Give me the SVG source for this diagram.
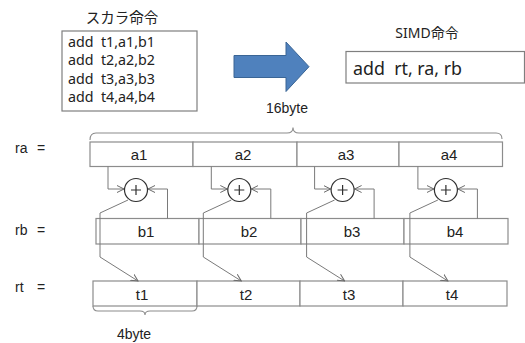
<svg xmlns="http://www.w3.org/2000/svg" width="525" height="343" viewBox="0 0 525 343">
<defs>
<marker id="ah" viewBox="0 0 8 8" refX="7" refY="4" markerWidth="8" markerHeight="8" markerUnits="userSpaceOnUse" orient="auto">
<path d="M0,0.5 L7,4 L0,7.5" fill="none" stroke="#6a6a6a" stroke-width="1"/>
</marker>
<style>
text{white-space:pre}
.cell{fill:#fff;stroke:#8c8c8c;stroke-width:1.2}
.con{fill:none;stroke:#7a7a7a;stroke-width:1}
.circ{fill:#fff;stroke:#303030;stroke-width:1.2}
.plus{stroke:#303030;stroke-width:1.2}
.lbl{font-family:"Liberation Sans",Arial,sans-serif;font-size:15px;fill:#222;text-anchor:middle}
.row{font-family:"Liberation Sans",Arial,sans-serif;font-size:14px;fill:#222}
.code{font-family:"Noto Sans","Liberation Sans",sans-serif;font-size:14px;fill:#222}
.jp{font-family:"Noto Sans","Noto Sans CJK JP",sans-serif;fill:#222;text-anchor:middle}
.brace{fill:none;stroke:#8c8c8c;stroke-width:1.1}
</style>
</defs>

<g id="scalar">
<text class="jp" x="122" y="23" font-size="14.5">スカラ命令</text>
<rect x="62" y="31" width="135" height="80" fill="#fff" stroke="#7f7f7f" stroke-width="1.2"/>
<text class="code" x="68" y="47" xml:space="preserve" textLength="87" lengthAdjust="spacingAndGlyphs">add  t1,a1,b1</text>
<text class="code" x="68" y="65.3" xml:space="preserve" textLength="87" lengthAdjust="spacingAndGlyphs">add  t2,a2,b2</text>
<text class="code" x="68" y="83.6" xml:space="preserve" textLength="87" lengthAdjust="spacingAndGlyphs">add  t3,a3,b3</text>
<text class="code" x="68" y="102" xml:space="preserve" textLength="87" lengthAdjust="spacingAndGlyphs">add  t4,a4,b4</text>
</g>

<g id="bigarrow">
<path d="M234,55.5 L286,55.5 L286,42 L309,66.7 L286,91.5 L286,77.5 L234,77.5 Z" fill="#4f81bd" stroke="#3a6595" stroke-width="1"/>
</g>

<g id="simd">
<text class="jp" x="427" y="38" font-size="14">SIMD命令</text>
<rect x="346" y="51.5" width="178.5" height="31.5" fill="#fff" stroke="#7f7f7f" stroke-width="1.2"/>
<text x="353" y="75" font-family="Noto Sans,'Liberation Sans',sans-serif" font-size="18.5" fill="#222" xml:space="preserve" textLength="109" lengthAdjust="spacingAndGlyphs">add  rt, ra, rb</text>
</g>

<g id="brace16">
<path class="brace" d="M90,140 Q90,133 96,133 L287,133 Q293,133 293,127.5 Q293,133 299,133 L496,133 Q502,133 502,139"/>
<text class="row" x="287" y="113" text-anchor="middle">16byte</text>
</g>

<g id="labels">
<text class="row" x="15" y="153">ra</text><text class="row" x="37" y="153">=</text>
<text class="row" x="15" y="235">rb</text><text class="row" x="37" y="235">=</text>
<text class="row" x="15" y="292">rt</text><text class="row" x="37" y="292">=</text>
</g>

<g id="ra">
<rect class="cell" x="90" y="142" width="103" height="24.5"/>
<rect class="cell" x="193" y="142" width="104" height="24.5"/>
<rect class="cell" x="297" y="142" width="102" height="24.5"/>
<rect class="cell" x="399" y="142" width="103.5" height="24.5"/>
<text class="lbl" x="139" y="160">a1</text>
<text class="lbl" x="243" y="160">a2</text>
<text class="lbl" x="346" y="160">a3</text>
<text class="lbl" x="449" y="160">a4</text>
</g>

<g id="rb">
<rect class="cell" x="96" y="218.5" width="103" height="25.5"/>
<rect class="cell" x="199" y="218.5" width="102" height="25.5"/>
<rect class="cell" x="301" y="218.5" width="103" height="25.5"/>
<rect class="cell" x="404" y="218.5" width="104" height="25.5"/>
<text class="lbl" x="146" y="237">b1</text>
<text class="lbl" x="249" y="237">b2</text>
<text class="lbl" x="352" y="237">b3</text>
<text class="lbl" x="455" y="237">b4</text>
</g>

<g id="rt">
<rect class="cell" x="93" y="281" width="104" height="25"/>
<rect class="cell" x="197" y="281" width="103" height="25"/>
<rect class="cell" x="300" y="281" width="103" height="25"/>
<rect class="cell" x="403" y="281" width="104" height="25"/>
<text class="lbl" x="142" y="299.5">t1</text>
<text class="lbl" x="246" y="299.5">t2</text>
<text class="lbl" x="349" y="299.5">t3</text>
<text class="lbl" x="452" y="299.5">t4</text>
</g>

<g id="brace4">
<path class="brace" d="M93,306 Q93,311 98,311 L140,311 Q145,311 145,315 Q145,311 150,311 L192,311 Q197,311 197,306"/>
<text class="row" x="134" y="339" text-anchor="middle">4byte</text>
</g>

<g id="connectors">
<g>
<path class="con" d="M108,166.5 V189 H124" marker-end="url(#ah)"/>
<path class="con" d="M167.5,218.5 V189 H148" marker-end="url(#ah)"/>
<path class="con" d="M128,200 L100,213 V257 L138,281" marker-end="url(#ah)"/>
</g>
<g transform="translate(103.3,0)">
<path class="con" d="M108,166.5 V189 H124" marker-end="url(#ah)"/>
<path class="con" d="M167.5,218.5 V189 H148" marker-end="url(#ah)"/>
<path class="con" d="M128,200 L100,213 V257 L138,281" marker-end="url(#ah)"/>
</g>
<g transform="translate(206.6,0)">
<path class="con" d="M108,166.5 V189 H124" marker-end="url(#ah)"/>
<path class="con" d="M167.5,218.5 V189 H148" marker-end="url(#ah)"/>
<path class="con" d="M128,200 L100,213 V257 L138,281" marker-end="url(#ah)"/>
</g>
<g transform="translate(309.9,0)">
<path class="con" d="M108,166.5 V189 H124" marker-end="url(#ah)"/>
<path class="con" d="M167.5,218.5 V189 H148" marker-end="url(#ah)"/>
<path class="con" d="M128,200 L100,213 V257 L138,281" marker-end="url(#ah)"/>
</g>
</g>

<g id="add1"><circle class="circ" cx="136" cy="190" r="11.5"/><path class="plus" d="M131,190 H141 M136,185 V195"/></g>
<g id="add2"><circle class="circ" cx="239.3" cy="190" r="11.5"/><path class="plus" d="M234.3,190 H244.3 M239.3,185 V195"/></g>
<g id="add3"><circle class="circ" cx="342.6" cy="190" r="11.5"/><path class="plus" d="M337.6,190 H347.6 M342.6,185 V195"/></g>
<g id="add4"><circle class="circ" cx="445.9" cy="190" r="11.5"/><path class="plus" d="M440.9,190 H450.9 M445.9,185 V195"/></g>
</svg>
